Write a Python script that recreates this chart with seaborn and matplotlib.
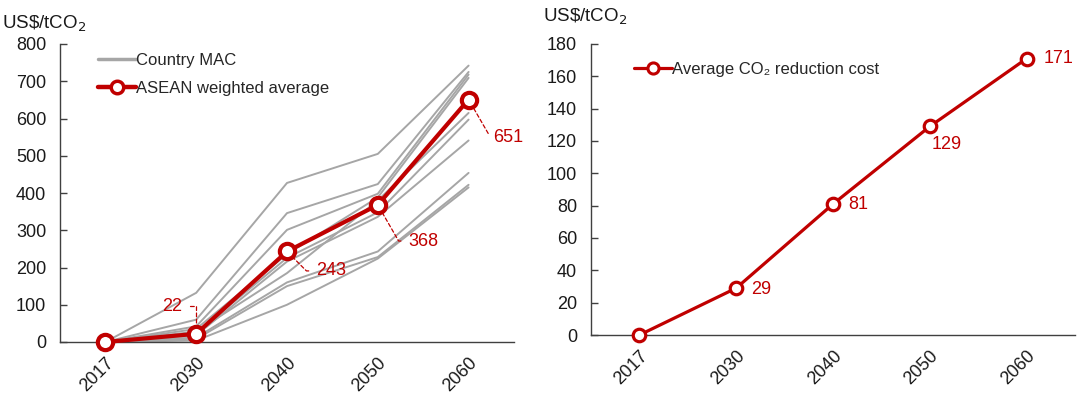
import numpy as np
import pandas as pd
import matplotlib
matplotlib.use("Agg")
import matplotlib.pyplot as plt
from matplotlib.lines import Line2D
import seaborn as sns

sns.set_theme(style="white")
plt.rcParams["font.family"] = ["Liberation Sans", "DejaVu Sans"]

# ---- data ----
years = ["2017", "2030", "2040", "2050", "2060"]

# marginal abatement cost by country (US$/tCO2)
country_1 = [0, 132, 427, 505, 742]
country_2 = [0, 60, 346, 424, 725]
country_3 = [0, 42, 301, 398, 718]
country_4 = [0, 35, 236, 388, 709]
country_5 = [0, 28, 185, 380, 615]
country_6 = [0, 24, 226, 348, 597]
country_7 = [0, 18, 216, 336, 541]
country_8 = [0, 12, 160, 243, 454]
country_9 = [0, 8, 150, 228, 422]
country_10 = [0, 4, 100, 224, 415]
country_series = [country_1, country_2, country_3, country_4, country_5,
                  country_6, country_7, country_8, country_9, country_10]

asean_avg = [0, 22, 243, 368, 651]
reduction_cost = [0, 29, 81, 129, 171]

RED = "#C00000"
GREY = "#A6A6A6"
INK = "#1a1a1a"
UNIT = r"US\$/tCO$_2$"

long = pd.DataFrame(
    [(f"c{i + 1}", j, v) for i, s in enumerate(country_series) for j, v in enumerate(s)],
    columns=["country", "pos", "value"],
)
avg_df = pd.DataFrame({"pos": range(len(years)), "value": asean_avg})
cost_df = pd.DataFrame({"pos": range(len(years)), "value": reduction_cost})

fig = plt.figure(figsize=(10.78, 3.96), dpi=100)
ax1 = fig.add_axes([60 / 1078, 1 - 342 / 396, 454 / 1078, 298 / 396])
ax2 = fig.add_axes([591 / 1078, 1 - 335 / 396, 484 / 1078, 291 / 396])


def style_axis(ax, ymax, ystep):
    ax.set_xlim(-0.5, len(years) - 0.5)
    ax.set_ylim(0, ymax)
    ax.set_yticks(np.arange(0, ymax + 1, ystep))
    ax.set_xticks(range(len(years)))
    ax.set_xticklabels(years, rotation=45, ha="right", rotation_mode="anchor")
    for side in ("top", "right"):
        ax.spines[side].set_visible(False)
    for side in ("left", "bottom"):
        ax.spines[side].set_color("#404040")
        ax.spines[side].set_linewidth(1.0)
    ax.tick_params(axis="y", direction="in", length=5, width=1, color="#404040",
                   labelsize=13, labelcolor=INK, pad=10, left=True)
    ax.tick_params(axis="x", length=0, labelsize=13, labelcolor=INK, pad=9)
    ax.set_xlabel("")
    ax.set_ylabel("")
    ax.grid(False)


# ---- left panel: country MAC curves and weighted average ----
sns.lineplot(data=long, x="pos", y="value", units="country", estimator=None,
             color=GREY, linewidth=1.4, ax=ax1, legend=False, zorder=2)
sns.lineplot(data=avg_df, x="pos", y="value", color=RED, linewidth=3.0,
             marker="o", markersize=11, markerfacecolor="white",
             markeredgecolor=RED, markeredgewidth=3, ax=ax1, legend=False,
             zorder=4, clip_on=False)
style_axis(ax1, 800, 100)

# (x offset, y offset, leader angle at the marker)
label_offsets = {1: (-10, 20, 90), 2: (21, -14, 135), 3: (22, -26, 120), 4: (18, -27, 120)}
for i, (dx, dy, ang) in label_offsets.items():
    v = asean_avg[i]
    ax1.annotate(
        f"{v}", xy=(i, v), xytext=(dx, dy), textcoords="offset points",
        color=RED, fontsize=13, ha="left" if dx > 0 else "right", va="center",
        arrowprops=dict(arrowstyle="-", color=RED, linestyle=(0, (3, 2)),
                        linewidth=0.9, shrinkA=3, shrinkB=6,
                        connectionstyle=f"angle,angleA=0,angleB={ang}"),
        zorder=5,
    )

ax1.text(-0.127, 1.035, UNIT, transform=ax1.transAxes, fontsize=13.5,
         color=INK, ha="left", va="bottom")

h_grey = Line2D([], [], color=GREY, linewidth=2.5)
h_red = Line2D([], [], color=RED, linewidth=3.2, marker="o", markersize=9,
               markerfacecolor="white", markeredgecolor=RED, markeredgewidth=2.5)
ax1.legend([h_grey, h_red], ["Country MAC", "ASEAN weighted average"],
           loc="upper left", bbox_to_anchor=(0.05, 1.02), frameon=False,
           fontsize=12, handlelength=2.3, handletextpad=0.0, labelspacing=0.75)

# ---- right panel: average reduction cost ----
sns.lineplot(data=cost_df, x="pos", y="value", color=RED, linewidth=2.3,
             marker="o", markersize=9, markerfacecolor="white",
             markeredgecolor=RED, markeredgewidth=2.3, ax=ax2, legend=False,
             zorder=4, clip_on=False)
style_axis(ax2, 180, 20)

cost_offsets = {1: (11, -1), 2: (11, 0), 3: (1, -13), 4: (12, 0)}
for i, (dx, dy) in cost_offsets.items():
    v = reduction_cost[i]
    ax2.annotate(f"{v}", xy=(i, v), xytext=(dx, dy), textcoords="offset points",
                 color=RED, fontsize=13, ha="left", va="center", zorder=5)

ax2.text(-0.1, 1.06, UNIT, transform=ax2.transAxes, fontsize=13.5,
         color=INK, ha="left", va="bottom")

h_cost = Line2D([], [], color=RED, linewidth=2.3, marker="o", markersize=8,
                markerfacecolor="white", markeredgecolor=RED, markeredgewidth=2.2)
ax2.legend([h_cost], ["Average CO\u2082 reduction cost"], loc="upper left",
           bbox_to_anchor=(0.058, 0.99), frameon=False, fontsize=12,
           handlelength=2.3, handletextpad=0.0)

fig.savefig("out.png", dpi=100)
